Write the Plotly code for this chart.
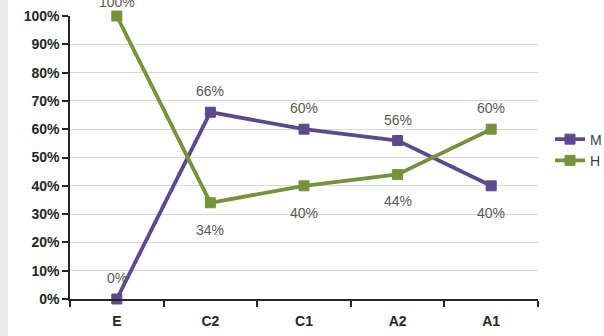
import plotly.graph_objects as go

categories = ["E", "C2", "C1", "A2", "A1"]
m_values = [0, 66, 60, 56, 40]
h_values = [100, 34, 40, 44, 60]
# label placement per point: +1 above the marker, -1 below
m_label_side = [1, 1, 1, 1, -1]
h_label_side = [1, -1, -1, -1, 1]
y_ticks = [0, 10, 20, 30, 40, 50, 60, 70, 80, 90, 100]
y_tick_labels = [f"{v}%" for v in y_ticks]

M_COLOR = "#5E4A8A"
H_COLOR = "#76923C"
LABEL_COLOR = "#595959"
AXIS_COLOR = "#262626"

fig = go.Figure()

for name, vals, color in [("M", m_values, M_COLOR), ("H", h_values, H_COLOR)]:
    fig.add_trace(go.Scatter(
        x=categories, y=[v / 100 for v in vals], name=name,
        mode="lines+markers",
        line=dict(color=color, width=3.8),
        marker=dict(symbol="square", size=10, color=color,
                    line=dict(color=color, width=1)),
        cliponaxis=False,
    ))

annotations = []
for vals, sides in [(m_values, m_label_side), (h_values, h_label_side)]:
    for cat, v, side in zip(categories, vals, sides):
        shift = 21 if side > 0 else -27
        if v == 100:
            shift = 14  # keep the top label partly inside the page
        annotations.append(dict(
            x=cat, y=v / 100, text=f"{v}%", showarrow=False,
            yshift=shift,
            font=dict(size=14, color=LABEL_COLOR)))

fig.update_layout(
    width=604, height=336,
    margin=dict(l=70, r=66, t=16, b=37, autoexpand=False),
    paper_bgcolor="white", plot_bgcolor="white",
    font=dict(family="Liberation Sans", size=14, color="#404040"),
    showlegend=True,
    legend=dict(x=1.0 + 12 / 468, xanchor="left", y=0.62, yanchor="top",
                font=dict(size=14, color="#404040"),
                tracegroupgap=0, itemwidth=30,
                bgcolor="rgba(0,0,0,0)"),
    annotations=annotations,
    shapes=[dict(type="rect", xref="paper", yref="paper",
                 x0=-70 / 468, x1=-62 / 468, y0=-0.2, y1=1.1,
                 fillcolor="#EBEBEB", line=dict(width=0), layer="below")],
)

fig.update_xaxes(
    type="category", range=[-0.5, 4.5], automargin=False,
    showline=True, linecolor=AXIS_COLOR, linewidth=1.5,
    ticks="outside", tickson="boundaries", ticklen=6, tickcolor=AXIS_COLOR,
    tickwidth=1.5, showgrid=False,
    tickvals=categories, ticktext=[f"<b>{c}</b>" for c in categories],
    tickfont=dict(family="Liberation Sans", size=14, color=AXIS_COLOR),
    ticklabelstandoff=8,
)
fig.update_yaxes(
    range=[0, 1], automargin=False,
    tickvals=[v / 100 for v in y_ticks],
    ticktext=[f"<b>{t}</b>" for t in y_tick_labels],
    showline=True, linecolor=AXIS_COLOR, linewidth=1.5,
    ticks="outside", ticklen=6, tickcolor=AXIS_COLOR, tickwidth=1.5,
    showgrid=True, gridcolor="#D9D9D9", gridwidth=1,
    zeroline=False,
    tickfont=dict(family="Liberation Sans", size=14, color=AXIS_COLOR),
)

fig.write_html("out.html")
